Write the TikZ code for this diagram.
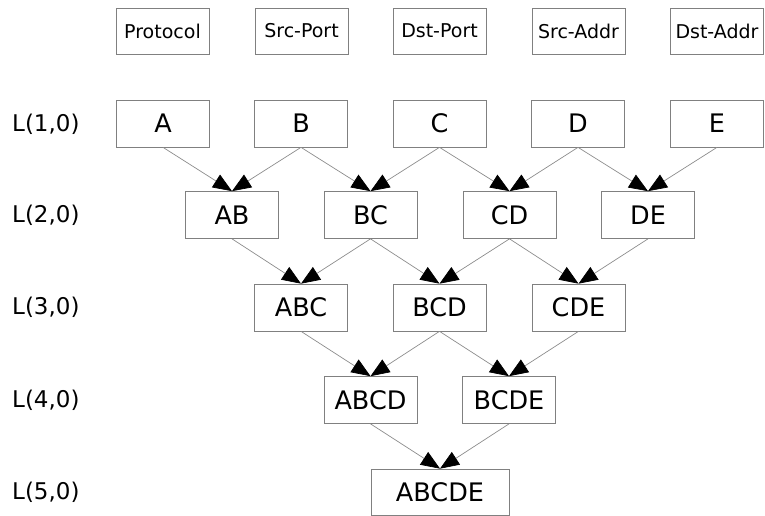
\documentclass[tikz,border=0pt]{standalone}
\usepackage{fontspec}
\setmainfont{DejaVu Sans}
\usetikzlibrary{arrows.meta}
\begin{document}
\begin{tikzpicture}[x=1pt,y=-1pt,
  hdr/.style={draw=black!50,line width=0.7pt,minimum width=93pt,minimum height=46pt,inner sep=0pt,font=\fontsize{19}{22}\selectfont},
  box/.style={draw=black!50,line width=0.7pt,minimum width=93pt,minimum height=47pt,inner sep=0pt,font=\fontsize{25.5}{30}\selectfont},
  lvl/.style={anchor=west,inner sep=0pt,font=\fontsize{23}{27}\selectfont},
  conn/.style={draw=black!45,line width=0.7pt,-{Triangle[length=19pt,width=15pt,fill=black,color=black]}}]
\useasboundingbox (0,0) rectangle (765,516);
% header
\node[hdr] (h1) at (162.5,31) {Protocol};
\node[hdr] (h2) at (301.5,31) {Src-Port};
\node[hdr] (h3) at (439.5,31) {Dst-Port};
\node[hdr] (h4) at (578.5,31) {Src-Addr};
\node[hdr] (h5) at (717,31) {Dst-Addr};
% level labels
\node[lvl] (l1) at (12,124) {L(1,0)};
\node[lvl] (l2) at (12,215) {L(2,0)};
\node[lvl] (l3) at (12,307) {L(3,0)};
\node[lvl] (l4) at (12,400) {L(4,0)};
\node[lvl] (l5) at (12,492) {L(5,0)};
% level 1
\node[box] (A) at (163,123.5) {A};
\node[box] (B) at (301,123.5) {B};
\node[box] (C) at (439.5,123.5) {C};
\node[box] (D) at (578,123.5) {D};
\node[box] (E) at (717,123.5) {E};
% level 2
\node[box] (AB) at (232,215) {AB};
\node[box] (BC) at (370.5,215) {BC};
\node[box] (CD) at (509.5,215) {CD};
\node[box] (DE) at (648,215) {DE};
% level 3
\node[box] (ABC) at (301,307.5) {ABC};
\node[box] (BCD) at (439.5,307.5) {BCD};
\node[box] (CDE) at (578.5,307.5) {CDE};
% level 4
\node[box] (ABCD) at (370.5,400) {ABCD};
\node[box] (BCDE) at (509,400) {BCDE};
% level 5
\node[box,minimum width=138pt,minimum height=46pt] (ABCDE) at (440,492) {ABCDE};
% connectors
\foreach \p/\c in {A/AB,B/AB,B/BC,C/BC,C/CD,D/CD,D/DE,E/DE,
  AB/ABC,BC/ABC,BC/BCD,CD/BCD,CD/CDE,DE/CDE,
  ABC/ABCD,BCD/ABCD,BCD/BCDE,CDE/BCDE,ABCD/ABCDE,BCDE/ABCDE}
  \draw[conn] (\p.south) -- (\c.north);
\end{tikzpicture}
\end{document}
